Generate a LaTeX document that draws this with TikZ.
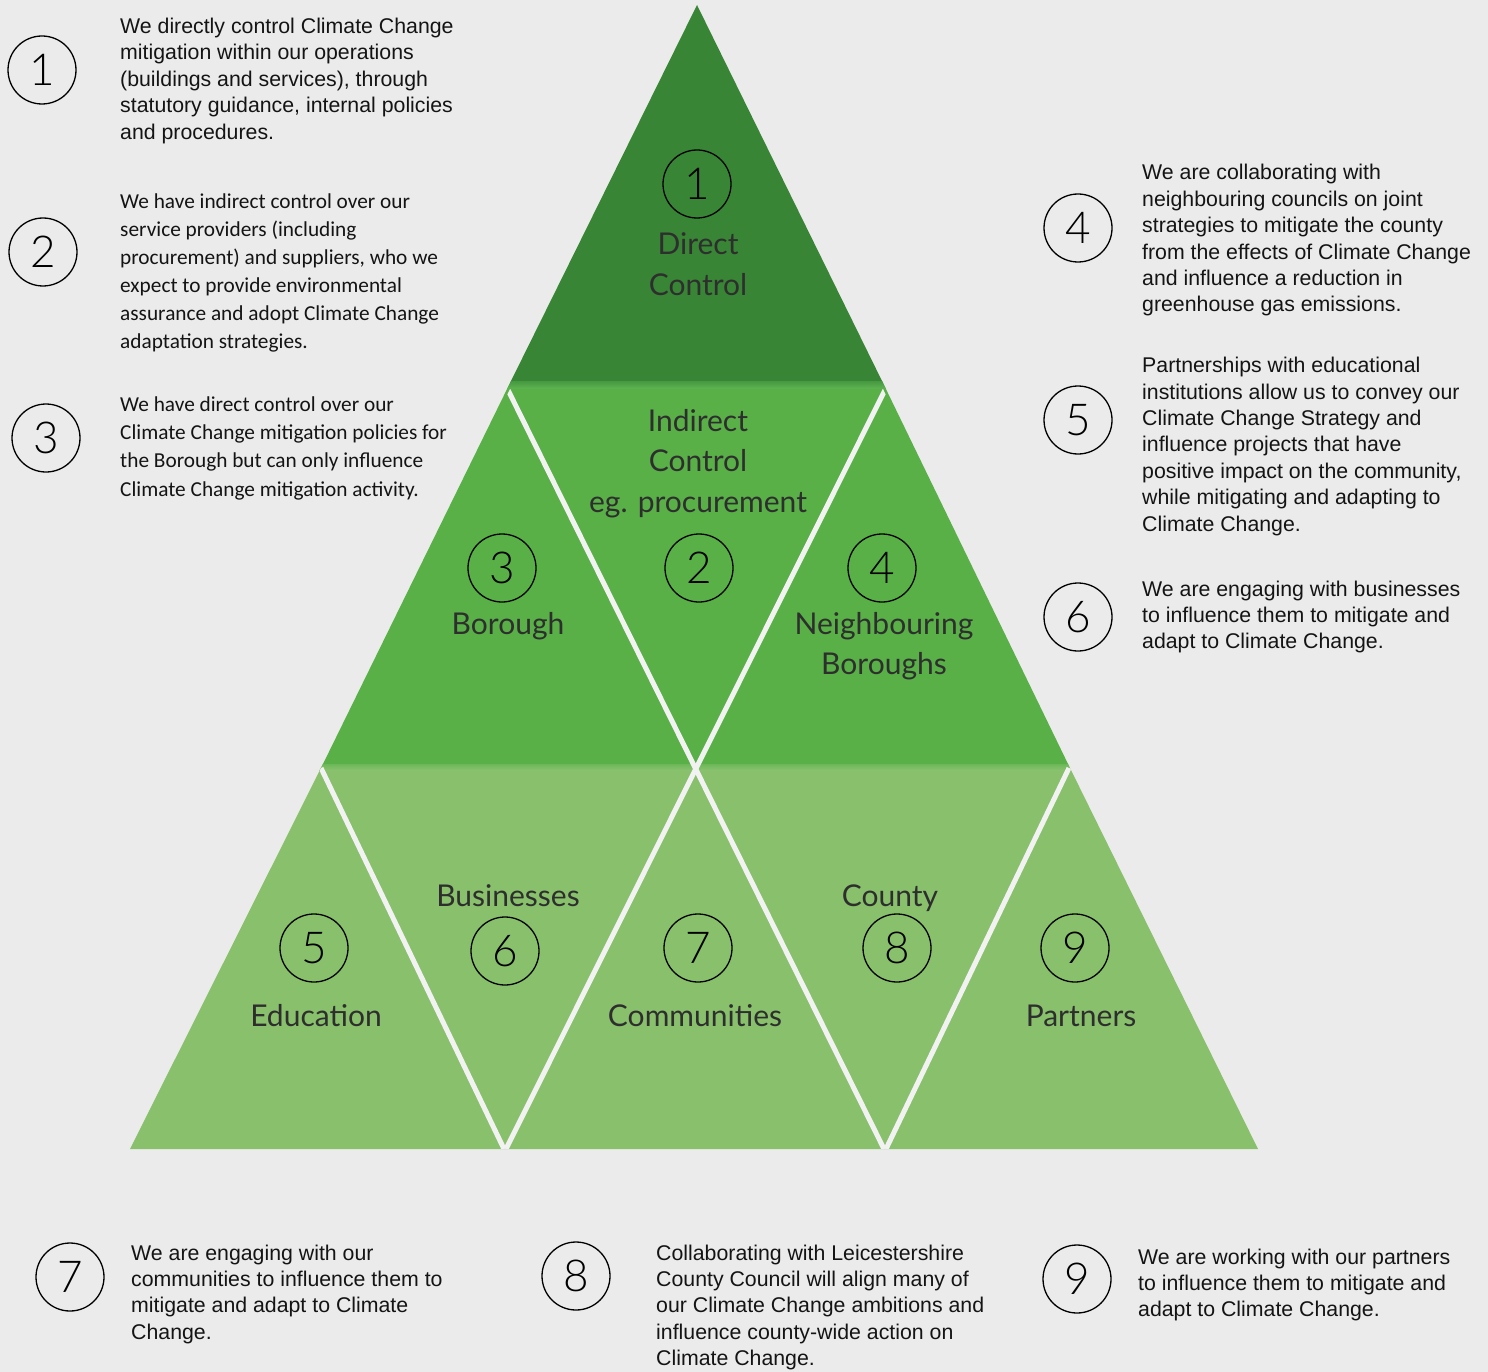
\documentclass[tikz,border=0pt]{standalone}
\usepackage{fontspec}
\setmainfont{Liberation Sans}
\newfontfamily\calfont{Carlito}
\newfontfamily\gillfont{Lato}
\newfontfamily\digfont{Lato Light}
\definecolor{bg}{HTML}{EBEBEB}
\definecolor{gdark}{HTML}{388535}
\definecolor{gmid}{HTML}{58B047}
\definecolor{glight}{HTML}{88C06C}
\definecolor{sepc}{HTML}{F2F2F2}
\definecolor{lblc}{HTML}{2E2E2E}
\definecolor{bandA}{HTML}{46993F}
\definecolor{bandB}{HTML}{5FB552}
\definecolor{bandC}{HTML}{6CB757}
\definecolor{bandD}{HTML}{8DC472}
\newcommand\mylft[1]{\parbox[t]{440pt}{\raggedright #1}}
\newcommand\myctr[1]{\parbox[t]{400pt}{\centering #1}}
\tikzset{
  numc/.style={circle, draw=black, line width=1.3pt, minimum size=68pt, inner sep=0pt,
    font=\digfont\fontsize{44}{44}\selectfont},
  desc/.style={anchor=base west, inner sep=0pt, text=black!92,
    font=\fontsize{21.3}{26.4}\selectfont},
  descc/.style={anchor=base west, inner sep=0pt, text=black!92,
    font=\calfont\fontsize{21.3}{28.1}\selectfont},
  lab/.style={anchor=base, inner sep=0pt, text=lblc,
    font=\gillfont\fontsize{30}{40.5}\selectfont},
  sepline/.style={draw=sepc, line width=5pt},
}
\begin{document}
\begin{tikzpicture}[x=1pt,y=-1pt]
\useasboundingbox (0,0) rectangle (1488,1372);
\fill[bg] (0,0) rectangle (1488,1372);
% rows
\fill[gdark] (697,5) -- (510,383) -- (883,383) -- cycle;
\fill[gmid] (510,383) -- (883,383) -- (1069,766) -- (322,766) -- cycle;
\fill[glight] (322,766) -- (1069,766) -- (1258,1149) -- (130,1149) -- cycle;
\shade[top color=bandA, bottom color=bandB] (511,381) -- (882,381) -- (886,389) -- (507,389) -- cycle;
\shade[top color=bandC, bottom color=bandD] (323,764) -- (1068,764) -- (1071,771) -- (319,771) -- cycle;
% separators
\begin{scope}
\clip (510,389) -- (883,389) -- (1069,766) -- (1258,1149) -- (130,1149) -- (322,766) -- cycle;
\draw[sepline] (508,390) -- (884,1149);
\draw[sepline] (885,390) -- (506,1149);
\draw[sepline] (321,768) -- (504,1149);
\draw[sepline] (1069,768) -- (886,1149);
\end{scope}
% inner circles and labels
\node[numc] (k1) at (697,184) {1};
\node[lab] (l1) at (698,255) {\myctr{Direct\\Control}};
\node[numc] (k2) at (699,568) {2};
\node[lab] (l2) at (698,431) {\myctr{Indirect\\Control\\eg. procurement}};
\node[numc] (k3) at (502,568) {3};
\node[lab] (l3) at (508,634) {Borough};
\node[numc] (k4) at (882,568) {4};
\node[lab] (l4) at (884,634) {\myctr{Neighbouring\\Boroughs}};
\node[numc] (k5) at (314,948) {5};
\node[lab] (l5) at (316,1026) {Education};
\node[numc] (k6) at (505,951) {6};
\node[lab] (l6) at (508,906) {Businesses};
\node[numc] (k7) at (698,948) {7};
\node[lab] (l7) at (695,1026) {Communities};
\node[numc] (k8) at (897,948) {8};
\node[lab] (l8) at (890,906) {County};
\node[numc] (k9) at (1075,948) {9};
\node[lab] (l9) at (1081,1026) {Partners};
% side circles
\node[numc] (c1) at (42,70) {1};
\node[numc] (c2) at (43,252) {2};
\node[numc] (c3) at (46,438) {3};
\node[numc] (c4) at (1078,228) {4};
\node[numc] (c5) at (1078,420) {5};
\node[numc] (c6) at (1078,617) {6};
\node[numc] (c7) at (70,1277) {7};
\node[numc] (c8) at (576,1276) {8};
\node[numc] (c9) at (1077,1279) {9};
% descriptions
\node[desc] (t1) at (120,33.5) {\mylft{We directly control Climate Change\\mitigation within our operations\\(buildings and services), through\\statutory guidance, internal policies\\and procedures.}};
\node[descc] (t2) at (120,208.5) {\mylft{We have indirect control over our\\service providers (including\\procurement) and suppliers, who we\\expect to provide environmental\\assurance and adopt Climate Change\\adaptation strategies.}};
\node[descc] (t3) at (120,411.7) {\mylft{We have direct control over our\\Climate Change mitigation policies for\\the Borough but can only influence\\Climate Change mitigation activity.}};
\node[desc] (t4) at (1142,180) {\mylft{We are collaborating with\\neighbouring councils on joint\\strategies to mitigate the county\\from the effects of Climate Change\\and influence a reduction in\\greenhouse gas emissions.}};
\node[desc] (t5) at (1142,372.7) {\mylft{Partnerships with educational\\institutions allow us to convey our\\Climate Change Strategy and\\influence projects that have\\positive impact on the community,\\while mitigating and adapting to\\Climate Change.}};
\node[desc] (t6) at (1142,596) {\mylft{We are engaging with businesses\\to influence them to mitigate and\\adapt to Climate Change.}};
\node[desc] (t7) at (131,1260) {\mylft{We are engaging with our\\communities to influence them to\\mitigate and adapt to Climate\\Change.}};
\node[desc] (t8) at (656,1260) {\mylft{Collaborating with Leicestershire\\County Council will align many of\\our Climate Change ambitions and\\influence county-wide action on\\Climate Change.}};
\node[desc] (t9) at (1138,1264) {\mylft{We are working with our partners\\to influence them to mitigate and\\adapt to Climate Change.}};
\end{tikzpicture}
\end{document}
